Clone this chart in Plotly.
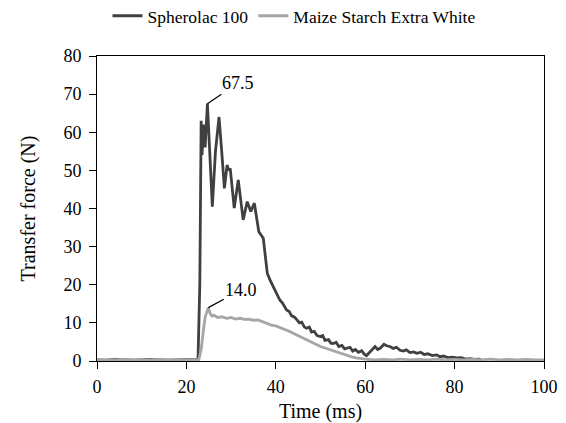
import plotly.graph_objects as go

# ---- data ----
t_sph = [0, 2, 4, 6, 8, 10, 12, 14, 16, 18, 20, 22, 22.6, 23.0, 23.3, 23.5, 23.8, 24.2, 24.7, 25.2,
         25.8, 26.5, 27.3, 27.9, 28.5, 29.1, 29.5, 29.8, 30.7, 31.6, 32.7, 33.6, 34.4, 35.2, 35.6,
         36.2, 37.2, 37.6, 38.1, 38.8, 39.4, 40.2, 40.9, 41.5, 42.4, 43.0, 43.5, 44.2, 44.7, 45.3,
         45.8, 46.4, 46.9, 47.5, 48.0, 48.6, 49.2, 49.9, 50.5, 51.0, 51.8, 52.3, 52.9, 53.5, 54.1,
         54.8, 55.4, 55.9, 56.6, 57.2, 57.8, 58.5, 59.2, 59.8, 60.3, 61.0, 61.6, 62.2, 62.8, 63.4,
         64.2, 64.8, 65.5, 66.3, 67.0, 67.8, 68.5, 69.2, 70.0, 70.8, 71.6, 72.4, 73.2, 74.0, 75.0,
         76.0, 76.7, 77.5, 78.5, 79.5, 80.5, 81.5, 82.5, 83.5, 84.5, 85.5, 86.0]
f_sph = [0.3, 0.2, 0.4, 0.3, 0.2, 0.3, 0.4, 0.3, 0.2, 0.3, 0.3, 0.4, 0.5, 20, 63, 54, 62, 56, 67.5, 55,
         40.5, 55, 64, 55, 45.3, 51.4, 50, 50.5, 40.1, 47.5, 37, 41.8, 39.2, 41.4, 38.8,
         33.9, 32.2, 27.8, 23, 21, 19.5, 17.5, 16, 15.2, 13.4, 13.0, 11.9, 11.5, 10.8, 10.0,
         10.2, 8.9, 8.6, 8.9, 7.6, 7.8, 6.7, 6.4, 6.7, 5.4, 5.6, 4.7, 4.6, 4.9, 3.8,
         4.1, 3.2, 3.3, 3.6, 2.6, 3.0, 2.3, 2.7, 1.8, 1.4, 2.3, 3.0, 3.8, 3.0, 3.4,
         4.4, 4.0, 3.8, 3.3, 3.6, 2.8, 2.6, 2.9, 2.2, 2.4, 2.0, 2.3, 1.7, 1.9, 1.4,
         1.6, 1.1, 1.3, 0.9, 1.0, 0.8, 0.9, 0.5, 0.6, 0.4, 0.5, 0.2]

t_mse = [0, 2, 4, 6, 8, 10, 12, 14, 16, 18, 20, 22, 22.8, 23.3, 23.8, 24.2, 24.6, 24.9, 25.3, 25.7,
         26.2, 27.0, 28.0, 29.0, 30.0, 31.0, 32.0, 33.0, 34.0, 35.0, 36.0, 37.0, 38.0, 39.0, 40.0,
         41.0, 42.0, 43.0, 44.0, 45.0, 46.0, 47.0, 48.0, 49.0, 50.0, 51.0, 52.0, 53.0, 54.0, 55.0,
         56.0, 57.0, 58.0, 59.0, 60.0, 62, 64, 66, 68, 70, 72, 74, 76, 78, 80, 82, 84, 86, 88, 90,
         92, 94, 96, 98, 100]
f_mse = [0.3, 0.2, 0.3, 0.4, 0.3, 0.2, 0.3, 0.4, 0.3, 0.3, 0.2, 0.3, 0.4, 3, 8, 11.5, 13.0, 14.0, 12.5, 11.8,
         12.0, 11.4, 11.6, 11.2, 11.4, 11.0, 11.2, 10.9, 11.0, 10.7, 10.8, 10.3, 9.8, 9.4, 9.2,
         8.8, 8.3, 7.8, 7.2, 6.6, 6.1, 5.5, 5.0, 4.3, 3.8, 3.4, 3.0, 2.5, 2.1, 1.8,
         1.4, 1.1, 0.8, 0.6, 0.5, 0.3, 0.4, 0.3, 0.5, 0.3, 0.4, 0.3, 0.5, 0.3, 0.4, 0.3, 0.4, 0.3, 0.5, 0.3,
         0.4, 0.3, 0.4, 0.3, 0.3]

series_names = ["Spherolac 100", "Maize Starch Extra White"]
x_ticks = [0, 20, 40, 60, 80, 100]
y_ticks = [0, 10, 20, 30, 40, 50, 60, 70, 80]

FONT = "Liberation Serif"
DARK = "#404040"
LIGHT = "#a6a6a6"

fig = go.Figure()
fig.add_trace(go.Scatter(x=t_sph, y=f_sph, mode="lines", name=series_names[0],
                         line=dict(color=DARK, width=2.8)))
fig.add_trace(go.Scatter(x=t_mse, y=f_mse, mode="lines", name=series_names[1],
                         line=dict(color=LIGHT, width=2.8)))

# peak annotations
for t, f, ax, ay in [(t_sph, f_sph, 31, -21), (t_mse, f_mse, 33, -18)]:
    i = max(range(len(f)), key=lambda k: f[k])
    fig.add_annotation(x=t[i], y=f[i], text=f"{f[i]:.1f}", showarrow=True,
                       arrowhead=0, arrowwidth=1.2, arrowcolor="black",
                       ax=ax, ay=ay, font=dict(family=FONT, size=18, color="black"),
                       xanchor="center", yanchor="middle")

axis_common = dict(showline=True, linecolor="black", linewidth=1, mirror=True,
                   ticks="outside", ticklen=7, tickcolor="black", showgrid=False,
                   zeroline=False, automargin=False,
                   tickfont=dict(family=FONT, size=18, color="black"))

fig.update_xaxes(range=[0, 100], tickvals=x_ticks, ticklabelstandoff=2,
                 title=dict(text="Time (ms)", font=dict(family=FONT, size=20, color="black"), standoff=15),
                 **axis_common)
fig.update_yaxes(range=[0, 80], tickvals=y_ticks, ticklabelstandoff=4,
                 title=dict(text="Transfer force (N)", font=dict(family=FONT, size=20, color="black"), standoff=22),
                 **axis_common)

# page has an 8px body margin, so the figure is sized to fit the window
fig.update_layout(
    width=558, height=415,
    margin=dict(l=89, r=22, t=48, b=62, autoexpand=False),
    paper_bgcolor="white", plot_bgcolor="white",
    showlegend=True,
    legend=dict(orientation="h", x=0.5125, xref="container", xanchor="center",
                y=0.981, yref="container", yanchor="middle",
                font=dict(family=FONT, size=17.5, color="black"), itemwidth=30,
                bgcolor="rgba(0,0,0,0)"),
    font=dict(family=FONT, color="black"),
)

fig.write_html("out.html")
